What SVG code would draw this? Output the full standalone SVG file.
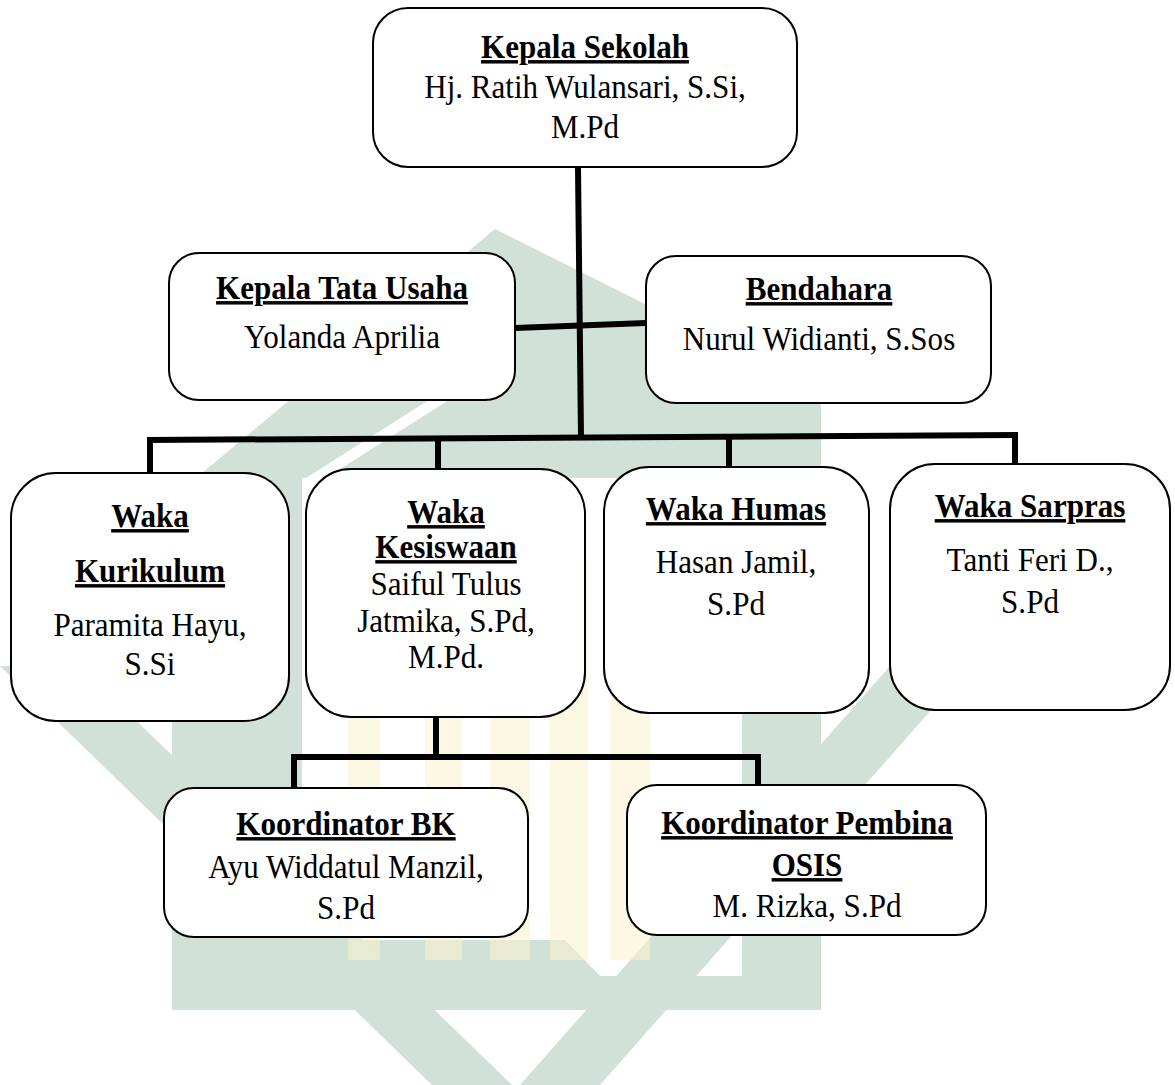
<svg xmlns="http://www.w3.org/2000/svg" width="1175" height="1085" viewBox="0 0 1175 1085">
<style>
.box{fill:#fff;stroke:#000;stroke-width:2}
.t{font-family:"Liberation Serif","Times New Roman",serif;font-size:34.5px;text-anchor:middle;fill:#000}
.h{font-weight:bold;text-decoration:underline}
.c{stroke:#000;fill:none;stroke-width:6}
.wg{fill:#d1e1d7}
.wy{fill:#fbf2cc;opacity:0.55}
</style>
<rect x="0" y="0" width="1175" height="1085" fill="#fff"/>
<g id="watermark">
  <path class="wg" fill-rule="evenodd" d="M495,229 L821,392 L821,1010 L172,1010 L172,498 Z M302,478 L742,478 L742,976 L600,976 L565,940 L302,940 Z"/>
  <polygon class="wg" points="0,666 80,666 512,1085 432,1085"/>
  <polygon class="wg" points="913,640 993,640 600,1085 520,1085"/>
  <polygon fill="#fff" points="432,398 452,398 326,478 306,478"/>
  <rect class="wy" x="348" y="560" width="32" height="400"/>
  <rect class="wy" x="425" y="560" width="37" height="400"/>
  <rect class="wy" x="490" y="560" width="40" height="400"/>
  <rect class="wy" x="550" y="560" width="38" height="400"/>
  <rect class="wy" x="610" y="560" width="40" height="400"/>
</g>
<g id="connectors">
  <line class="c" x1="578" y1="167" x2="581" y2="438" stroke-width="5"/>
  <line class="c" x1="515" y1="328" x2="646" y2="323" stroke-width="7"/>
  <line class="c" x1="147" y1="440" x2="1018" y2="435"/>
  <line class="c" x1="150" y1="437" x2="150" y2="473"/>
  <line class="c" x1="438" y1="437" x2="438" y2="469"/>
  <line class="c" x1="729" y1="436" x2="729" y2="467"/>
  <line class="c" x1="1015" y1="433" x2="1015" y2="463" stroke-width="7"/>
  <line class="c" x1="436" y1="717" x2="436" y2="757"/>
  <line class="c" x1="291" y1="757" x2="761" y2="757"/>
  <line class="c" x1="294" y1="755" x2="294" y2="788"/>
  <line class="c" x1="758" y1="755" x2="758" y2="785" stroke-width="7"/>
</g>
<g id="kepala-sekolah">
  <rect class="box" x="373" y="8" width="424" height="159" rx="35"/>
  <text class="t h" transform="matrix(0.9 0 0 1 585 0)" y="58">Kepala Sekolah</text>
  <text class="t" transform="matrix(0.9 0 0 1 585 0)" y="98">Hj. Ratih Wulansari, S.Si,</text>
  <text class="t" transform="matrix(0.9 0 0 1 585 0)" y="138">M.Pd</text>
</g>
<g id="kepala-tata-usaha">
  <rect class="box" x="169" y="253" width="346" height="147" rx="30"/>
  <text class="t h" transform="matrix(0.9 0 0 1 342 0)" y="299">Kepala Tata Usaha</text>
  <text class="t" transform="matrix(0.9 0 0 1 342 0)" y="348">Yolanda Aprilia</text>
</g>
<g id="bendahara">
  <rect class="box" x="646" y="256" width="345" height="147" rx="30"/>
  <text class="t h" transform="matrix(0.9 0 0 1 819 0)" y="300">Bendahara</text>
  <text class="t" transform="matrix(0.9 0 0 1 819 0)" y="350">Nurul Widianti, S.Sos</text>
</g>
<g id="waka-kurikulum">
  <rect class="box" x="11" y="473" width="278" height="248" rx="45"/>
  <text class="t h" transform="matrix(0.9 0 0 1 150 0)" y="527">Waka</text>
  <text class="t h" transform="matrix(0.9 0 0 1 150 0)" y="582">Kurikulum</text>
  <text class="t" transform="matrix(0.9 0 0 1 150 0)" y="636">Paramita Hayu,</text>
  <text class="t" transform="matrix(0.9 0 0 1 150 0)" y="675">S.Si</text>
</g>
<g id="waka-kesiswaan">
  <rect class="box" x="306" y="469" width="279" height="248" rx="45"/>
  <text class="t h" transform="matrix(0.9 0 0 1 446 0)" y="523">Waka</text>
  <text class="t h" transform="matrix(0.9 0 0 1 446 0)" y="558">Kesiswaan</text>
  <text class="t" transform="matrix(0.9 0 0 1 446 0)" y="595">Saiful Tulus</text>
  <text class="t" transform="matrix(0.9 0 0 1 446 0)" y="632">Jatmika, S.Pd,</text>
  <text class="t" transform="matrix(0.9 0 0 1 446 0)" y="668">M.Pd.</text>
</g>
<g id="waka-humas">
  <rect class="box" x="604" y="467" width="265" height="246" rx="45"/>
  <text class="t h" transform="matrix(0.9 0 0 1 736 0)" y="520">Waka Humas</text>
  <text class="t" transform="matrix(0.9 0 0 1 736 0)" y="573">Hasan Jamil,</text>
  <text class="t" transform="matrix(0.9 0 0 1 736 0)" y="615">S.Pd</text>
</g>
<g id="waka-sarpras">
  <rect class="box" x="890" y="464" width="280" height="246" rx="45"/>
  <text class="t h" transform="matrix(0.9 0 0 1 1030 0)" y="517">Waka Sarpras</text>
  <text class="t" transform="matrix(0.9 0 0 1 1030 0)" y="571">Tanti Feri D.,</text>
  <text class="t" transform="matrix(0.9 0 0 1 1030 0)" y="613">S.Pd</text>
</g>
<g id="koordinator-bk">
  <rect class="box" x="164" y="788" width="364" height="149" rx="30"/>
  <text class="t h" transform="matrix(0.9 0 0 1 346 0)" y="835">Koordinator BK</text>
  <text class="t" transform="matrix(0.9 0 0 1 346 0)" y="878">Ayu Widdatul Manzil,</text>
  <text class="t" transform="matrix(0.9 0 0 1 346 0)" y="919">S.Pd</text>
</g>
<g id="koordinator-pembina-osis">
  <rect class="box" x="627" y="785" width="359" height="150" rx="30"/>
  <text class="t h" transform="matrix(0.9 0 0 1 807 0)" y="834">Koordinator Pembina</text>
  <text class="t h" transform="matrix(0.9 0 0 1 807 0)" y="876">OSIS</text>
  <text class="t" transform="matrix(0.9 0 0 1 807 0)" y="917">M. Rizka, S.Pd</text>
</g>
</svg>
